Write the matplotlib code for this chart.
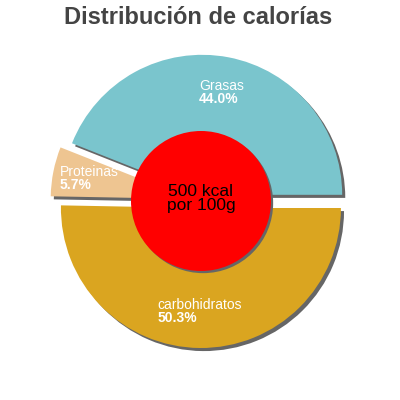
import matplotlib
matplotlib.use("Agg")
import matplotlib.pyplot as plt
from matplotlib.patches import Circle
import numpy as np

plt.rcParams['font.family'] = ['Liberation Sans', 'DejaVu Sans']

# data
nutrients = ['Grasas', 'Proteinas', 'carbohidratos']
percents = [44.0, 5.7, 50.3]
colors = ['#7AC5CD', '#EEC591', '#DAA520']
explode = [0.045, 0.075, 0.05]
energy = '500 kcal'
portion = 'por 100g'
title = 'Distribución de calorías'

fig = plt.figure(figsize=(4, 4), dpi=100)
ax = fig.add_axes([0, 0, 1, 1])

sh = 0.022  # shadow offset
shadow_col = '#666666'

# shadows
ax.pie(percents, explode=explode, colors=[shadow_col] * 3, startangle=0,
       counterclock=True, radius=1, center=(sh, -sh),
       wedgeprops=dict(linewidth=0))
# slices
wedges, _ = ax.pie(percents, explode=explode, colors=colors, startangle=0,
                   counterclock=True, radius=1,
                   wedgeprops=dict(linewidth=0))

ax.set_xlim(-201 / 140, 199 / 140)
ax.set_ylim(-199 / 140, 201 / 140)
ax.set_aspect('auto')
ax.axis('off')

# labels: name on top, percentage below, left aligned
renderer = fig.canvas.get_renderer()
for w, name, p in zip(wedges, nutrients, percents):
    mid = np.deg2rad((w.theta1 + w.theta2) / 2)
    cx, cy = w.center
    x = cx + 0.74 * np.cos(mid)
    y = cy + 0.74 * np.sin(mid)
    t = ax.text(x, y, name, color='white', fontsize=10, ha='center', va='bottom')
    bb = t.get_window_extent(renderer)
    x0 = ax.transData.inverted().transform((bb.x0, bb.y0))[0]
    ax.text(x0, y + 0.005, f'{p:.1f}%', color='white', fontsize=10,
            fontweight='bold', ha='left', va='top')

# center circle
ax.add_patch(Circle((sh * 0.7, -sh * 0.7), 0.5, color=shadow_col, lw=0))
ax.add_patch(Circle((0, 0), 0.5, color='#FF0000', lw=0))
ax.text(0, 0.02, f'{energy}\n{portion}', ha='center', va='center',
        fontsize=12.5, color='black', linespacing=0.95)

fig.text(0.495, 0.985, title, ha='center', va='top', fontsize=17,
         fontweight='bold', color='#444444')

fig.savefig('out.png', dpi=100)
